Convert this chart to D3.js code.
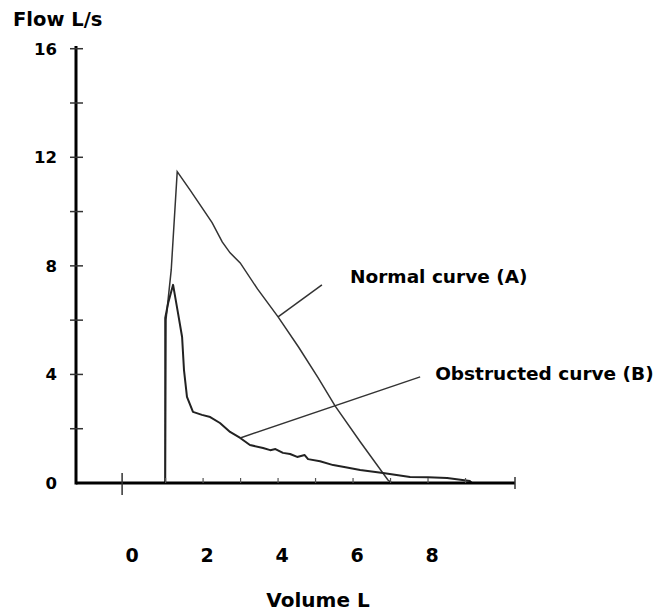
<!DOCTYPE html>
<html><head><meta charset="utf-8">
<script src="https://cdn.jsdelivr.net/npm/d3@7"></script>
<style>
body{margin:0;background:#fff}
text{font-family:"DejaVu Sans",Verdana,sans-serif;font-weight:bold;fill:#000}
</style>
</head><body>
<svg id="chart" width="665" height="613"></svg>
<script>
// ---- data (volume L, flow L/s) ----
const normalVolume = [0.99, 1.01, 1.15, 1.31, 1.65, 2.24, 2.51, 2.72, 2.99, 3.45, 4.00, 4.55, 5.07, 5.52, 6.20, 6.93, 7.04];
const normalFlow   = [0.00, 6.01, 7.85, 11.47, 10.80, 9.59, 8.88, 8.48, 8.11, 7.15, 6.12, 5.00, 3.87, 2.84, 1.50, 0.11, 0.00];

const obstructedVolume = [0.99, 0.99, 1.07, 1.20, 1.33, 1.44, 1.49, 1.57, 1.73, 1.97, 2.19, 2.45, 2.72, 2.99, 3.25, 3.60, 3.79, 3.93, 4.13, 4.32, 4.51, 4.71, 4.80, 5.12, 5.47, 5.80, 6.19, 6.80, 7.52, 8.00, 8.51, 9.12, 9.17];
const obstructedFlow   = [0.00, 6.08, 6.64, 7.30, 6.27, 5.38, 4.17, 3.17, 2.62, 2.51, 2.43, 2.21, 1.88, 1.66, 1.40, 1.29, 1.21, 1.25, 1.11, 1.07, 0.96, 1.03, 0.88, 0.80, 0.66, 0.58, 0.48, 0.37, 0.22, 0.21, 0.18, 0.07, 0.00];

const yTickValues = [0, 2, 4, 6, 8, 10, 12, 14, 16];
const yTickLabels = [0, 4, 8, 12, 16];
const xTickValues = [1, 2, 3, 4, 5, 6, 7, 8, 9];
const xTickLabels = [0, 2, 4, 6, 8];

const annotations = [
  {text: "Normal curve (A)",     from: [4.00, 6.12], to: [5.17, 7.30], label: [5.92, 7.37]},
  {text: "Obstructed curve (B)", from: [2.99, 1.66], to: [7.79, 3.91], label: [8.19, 3.80]}
];

// ---- scales ----
const x = d3.scaleLinear().domain([-1.39, 10.32]).range([76, 515]);
const y = d3.scaleLinear().domain([0, 16.1]).range([483, 46]);

const svg = d3.select("#chart");

// curves
const line = d3.line().x(d => x(d[0])).y(d => y(d[1]));
svg.append("path")
  .attr("d", line(normalVolume.map((v, i) => [v, normalFlow[i]])))
  .attr("fill", "none").attr("stroke", "#333").attr("stroke-width", 1.5);
svg.append("path")
  .attr("d", line(obstructedVolume.map((v, i) => [v, obstructedFlow[i]])))
  .attr("fill", "none").attr("stroke", "#222").attr("stroke-width", 2).attr("stroke-linejoin", "round");

// annotation leader lines and labels
svg.selectAll("line.ann").data(annotations).join("line").attr("class", "ann")
  .attr("x1", d => x(d.from[0])).attr("y1", d => y(d.from[1]))
  .attr("x2", d => x(d.to[0])).attr("y2", d => y(d.to[1]))
  .attr("stroke", "#333").attr("stroke-width", 1.5);
svg.selectAll("text.ann").data(annotations).join("text").attr("class", "ann")
  .attr("x", d => x(d.label[0])).attr("y", d => y(d.label[1]))
  .attr("font-size", 18.5).text(d => d.text);

// axes lines
svg.append("line").attr("x1", x(-1.39)).attr("x2", x(-1.39)).attr("y1", y(16.1)).attr("y2", y(0) + 1.5)
  .attr("stroke", "#000").attr("stroke-width", 3);
svg.append("line").attr("x1", x(-1.39)).attr("x2", x(10.32)).attr("y1", y(0)).attr("y2", y(0))
  .attr("stroke", "#000").attr("stroke-width", 3);

// y ticks (cross both sides)
svg.selectAll("line.yt").data(yTickValues.filter(v => v > 0)).join("line").attr("class", "yt")
  .attr("x1", x(-1.39) - 6).attr("x2", x(-1.39) + 7)
  .attr("y1", d => y(d)).attr("y2", d => y(d))
  .attr("stroke", "#333").attr("stroke-width", 1.5);
svg.selectAll("text.yl").data(yTickLabels).join("text").attr("class", "yl")
  .attr("x", 57).attr("y", d => y(d)).attr("dy", "0.36em")
  .attr("text-anchor", "end").attr("font-size", 16.5).text(d => d);

// x ticks
svg.selectAll("line.xt").data(xTickValues).join("line").attr("class", "xt")
  .attr("x1", d => x(d)).attr("x2", d => x(d))
  .attr("y1", y(0) - 5).attr("y2", y(0))
  .attr("stroke", "#555").attr("stroke-width", 1.2);
svg.append("line").attr("x1", x(0) - 6).attr("x2", x(0) - 6).attr("y1", y(0) - 10).attr("y2", y(0) + 12)
  .attr("stroke", "#333").attr("stroke-width", 1.5);
svg.append("line").attr("x1", x(10.32)).attr("x2", x(10.32)).attr("y1", y(0) - 6).attr("y2", y(0) + 6)
  .attr("stroke", "#333").attr("stroke-width", 1.5);
svg.selectAll("text.xl").data(xTickLabels).join("text").attr("class", "xl")
  .attr("x", d => x(d) + 4).attr("y", 562)
  .attr("text-anchor", "middle").attr("font-size", 19).text(d => d);

// axis titles
svg.append("text").attr("x", 13).attr("y", 26).attr("font-size", 19.5).text("Flow L/s");
svg.append("text").attr("x", 318).attr("y", 607).attr("text-anchor", "middle").attr("font-size", 20).text("Volume L");
</script>
</body></html>
